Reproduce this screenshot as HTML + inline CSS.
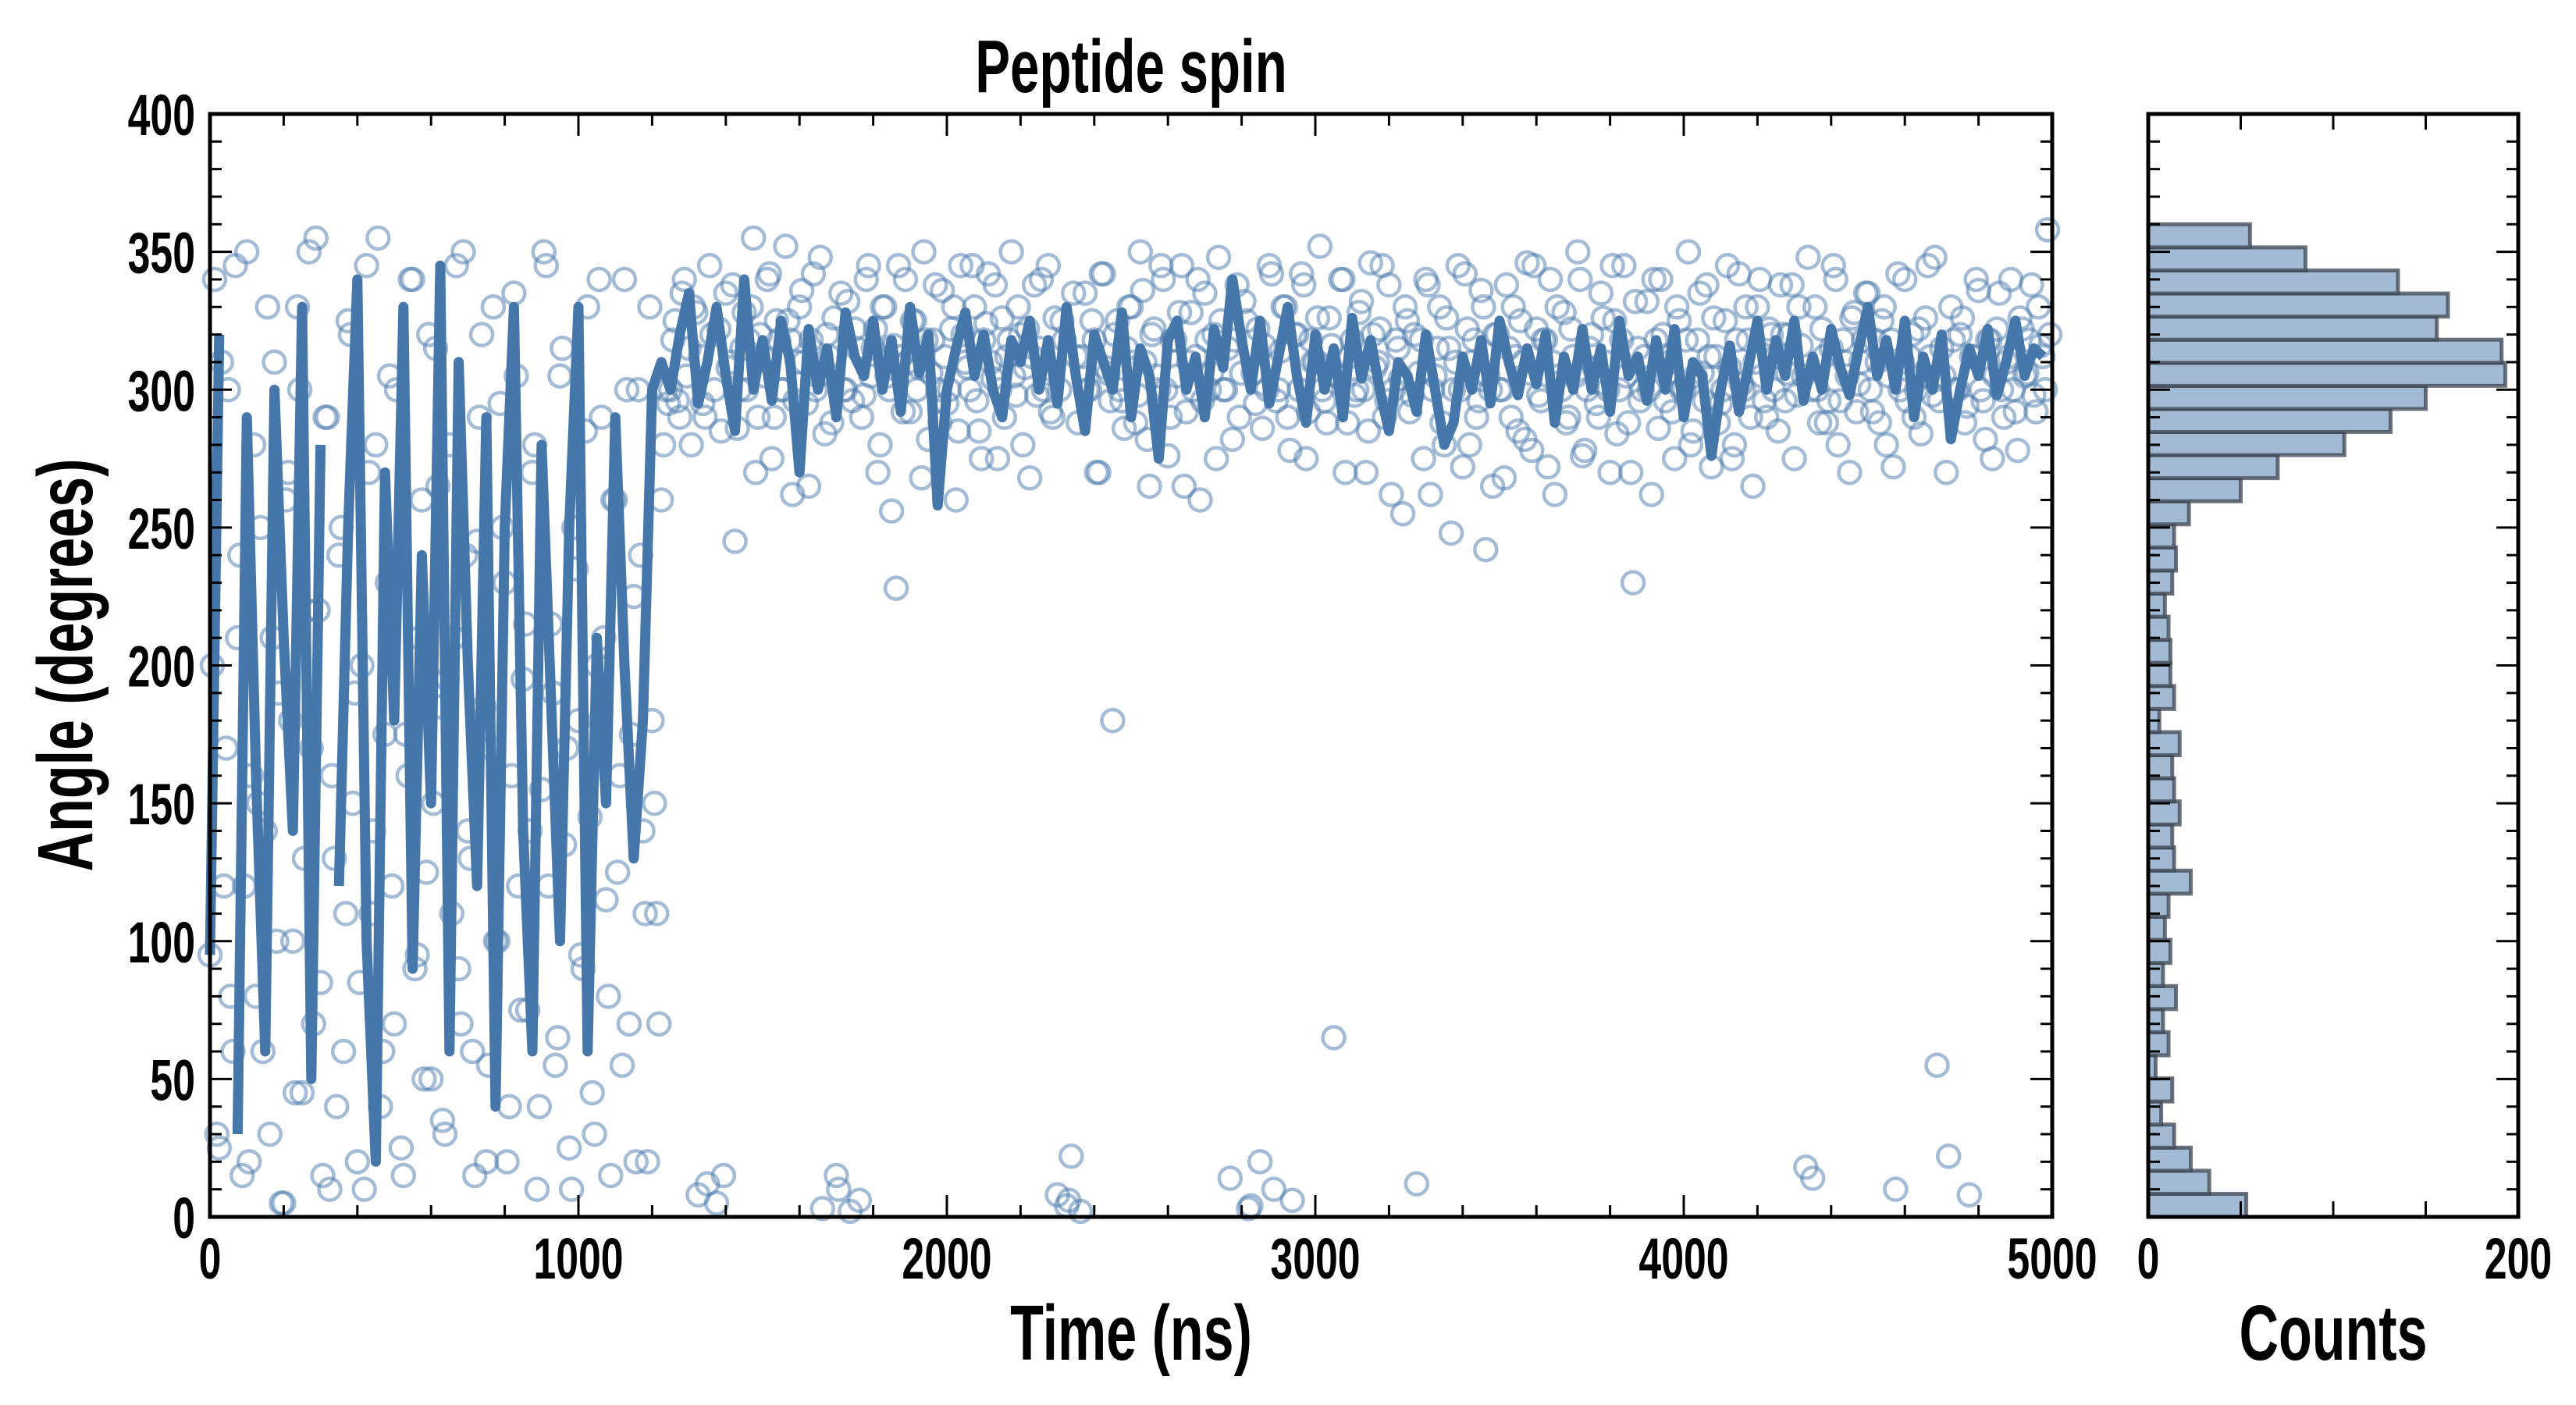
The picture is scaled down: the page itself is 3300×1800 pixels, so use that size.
<!DOCTYPE html>
<html><head><meta charset="utf-8"><style>
html,body{margin:0;padding:0;background:#fff;}
svg{display:block;}
text{font-family:"Liberation Sans Narrow","Liberation Sans",sans-serif;font-weight:bold;fill:#000;}
</style></head><body>
<svg id="chart" width="3300" height="1800" viewBox="0 0 3300 1800" xmlns="http://www.w3.org/2000/svg">
<g id="layer-hist"></g>
<g id="layer-scatter"></g>
<g id="layer-line"></g>
<g id="layer-axes"></g>
<text transform="translate(1449,118) scale(0.7,1)" text-anchor="middle" font-size="96">Peptide spin</text>
<text transform="translate(1449,1742) scale(0.7,1)" text-anchor="middle" font-size="100">Time (ns)</text>
<text transform="translate(2989,1742) scale(0.7,1)" text-anchor="middle" font-size="100">Counts</text>
<text transform="translate(118,852) rotate(-90) scale(0.7,1)" text-anchor="middle" font-size="100">Angle (degrees)</text>
</svg>
<script>
const scatterStep = 12.5;
const scatterAngles = [95,340,25,120,300,60,210,15,350,160,80,250,140,30,310,190,5,270,100,330,45,220,170,355,85,290,10,130,240,60,325,150,20,200,345,110,280,40,175,305,70,235,15,160,340,95,260,125,50,315,185,30,280,210,90,350,140,60,245,320,20,170,100,295,230,40,335,120,195,75,270,10,155,345,215,55,305,135,25,250,180,90,330,45,200,290,115,15,260,160,340,70,225,300,140,20,180,110,260,300,
300,325,290,340,315,330,8,295,12,320,5,285,335,310,245,300,328,318,355,290,
312,340,275,325,300,352,318,296,330,310,265,342,305,3,320,288,15,335,300,2,
322,6,298,345,315,270,330,305,256,228,312,340,292,325,308,350,282,318,300,336,
295,322,260,345,310,300,330,285,318,342,304,275,326,312,350,298,320,308,268,338,
315,300,345,290,8,325,4,22,312,2,335,300,318,270,342,306,180,325,296,315,
330,288,350,310,265,322,300,340,276,318,305,345,292,328,312,260,335,300,320,348,
300,315,282,338,306,325,4,295,20,316,345,10,300,330,290,6,320,342,275,318,
310,352,296,326,65,305,340,288,318,300,332,270,346,308,322,290,338,300,315,255,
325,298,12,318,340,262,305,330,280,315,300,345,272,322,310,290,336,242,300,320,
300,268,315,330,285,310,346,278,322,296,318,340,262,305,328,290,312,350,276,300,
320,295,335,310,270,325,300,345,288,230,315,300,332,262,318,340,296,310,275,325,
300,350,285,318,306,338,272,312,295,325,308,280,342,300,318,265,330,305,290,320,
312,338,296,320,275,330,305,348,14,300,322,288,315,340,296,310,270,328,302,318,
335,292,310,325,280,318,10,300,340,312,290,322,305,345,298,55,315,270,330,300,
320,288,8,312,336,296,318,275,322,300,310,340,292,326,305,318,298,330,312,358];
const scatterAngles2 = [200,30,310,170,80,345,240,120,20,280,150,60,330,210,100,5,260,180,45,300,130,350,70,220,15,290,160,40,250,110,320,190,85,10,270,140,355,60,230,120,300,25,175,340,90,210,50,320,150,265,35,195,110,345,70,240,130,15,290,185,55,330,100,250,20,160,305,75,215,140,280,40,350,120,190,65,315,170,10,235,95,285,145,30,340,210,80,260,125,55,300,175,20,240,110,330,150,70,280,295,
318,296,335,305,280,328,312,290,345,300,322,15,308,338,286,315,300,330,270,320,
305,342,290,318,300,325,262,310,336,295,318,300,348,284,312,326,10,300,332,296,
315,290,340,305,322,280,330,300,316,345,292,310,325,300,268,318,306,338,288,312,
300,330,285,320,308,345,296,275,324,310,338,300,290,318,305,330,280,322,312,298,
340,306,292,326,300,318,6,335,288,312,300,325,270,342,308,296,320,300,286,330,
310,298,336,282,320,305,345,300,290,318,328,265,310,300,340,296,318,306,275,325,
300,14,318,290,332,3,306,322,286,300,342,296,314,330,278,320,300,338,292,310,
326,300,288,316,305,340,270,312,298,328,300,285,320,310,345,296,262,318,304,330,
292,320,306,275,338,300,315,288,326,248,310,300,342,280,318,296,330,305,265,320,
300,338,290,312,325,282,306,345,298,318,272,310,330,300,288,322,305,340,278,315,
308,290,326,300,345,284,318,305,270,332,296,312,300,340,286,320,306,292,330,300,
318,280,305,335,296,312,326,288,300,345,275,318,302,330,290,310,340,296,322,300,
285,320,306,338,298,316,18,300,330,288,312,296,345,280,318,305,326,292,310,335,
300,318,288,330,305,272,342,310,296,320,300,284,326,312,348,296,305,22,318,300,
326,294,312,340,300,282,318,305,335,290,312,300,278,322,306,338,292,316,300,320];
const lineStep = 25;
const lineAngles = [95,320,null,30,290,160,60,300,210,140,330,50,280,null,120,250,340,100,20,270,180,330,90,240,150,345,60,310,200,120,290,40,250,330,140,60,280,190,100,250,330,60,210,150,290,200,130,180,300,310,
300,320,335,295,310,330,305,285,340,300,318,296,325,310,270,322,300,315,290,328,
312,305,325,300,318,292,330,306,320,258,300,315,328,305,320,300,290,318,310,325,
300,318,295,330,305,285,320,310,300,328,290,315,305,275,318,325,300,312,290,322,
308,340,318,300,325,295,312,330,305,288,320,300,315,290,326,304,318,300,285,310,
305,292,320,300,280,288,312,300,318,295,325,310,298,315,302,320,288,312,300,322,
300,315,292,325,305,312,296,318,300,322,290,310,305,276,300,316,292,308,325,300,
318,305,325,296,312,300,322,308,298,315,330,305,318,300,325,290,312,300,320,282,
300,315,305,322,298,310,325,305,315,312];
const histCounts = [53,33,23,14,7,13,4,11,8,15,8,12,9,11,23,14,13,17,14,13,17,6,14,12,12,11,9,13,15,14,22,50,70,106,131,150,193,191,156,162,135,85,55];
const xTicks = [0,1000,2000,3000,4000,5000];
const yTicks = [0,50,100,150,200,250,300,350,400];
const histTicks = [0,200];

const NS = "http://www.w3.org/2000/svg";
const M = {l:269, r:2629, t:146, b:1559};
const H = {l:2752, r:3226};
const xS = v => M.l + v/5000*(M.r-M.l);
const yS = v => M.b - v/400*(M.b-M.t);
const hS = v => H.l + v/200*(H.r-H.l);
function mk(tag, attrs, parent){const e=document.createElementNS(NS,tag);for(const k in attrs)e.setAttribute(k,attrs[k]);parent.appendChild(e);return e;}

const hist = document.getElementById('layer-hist');
const bw = 360/histCounts.length;
histCounts.forEach((c,i)=>{
  const y1 = yS(i*bw), y0 = yS((i+1)*bw);
  const r = mk('rect',{x:H.l,y:y0,width:hS(c)-H.l,height:y1-y0,fill:'#a2bad3',stroke:'#3c4450','stroke-opacity':'0.75','stroke-width':'5'},hist);
  
  
});

const sc = document.getElementById('layer-scatter');
function drawPts(arr, offset){
  arr.forEach((a,i)=>{
    const c = mk('circle',{cx:xS(i*scatterStep+offset),cy:yS(a),r:14,fill:'none',stroke:'#4a7aab','stroke-opacity':'0.5','stroke-width':'4.5'},sc);
    
    
  });
}
drawPts(scatterAngles, 0);
drawPts(scatterAngles2, scatterStep/2);

const ln = document.getElementById('layer-line');
let d='', pen=false;
lineAngles.forEach((a,i)=>{
  if(a===null){pen=false;return;}
  d += (pen?'L':'M') + xS(i*lineStep).toFixed(1) + ',' + yS(a).toFixed(1);
  pen=true;
});
const p = mk('path',{d:d,fill:'none',stroke:'#4677ab','stroke-width':'13','stroke-linejoin':'round'},ln);



const ax = document.getElementById('layer-axes');
function frame(l,r,name){
  const f = mk('rect',{x:l,y:M.t,width:r-l,height:M.b-M.t,fill:'none',stroke:'#000','stroke-width':'5'},ax);
  
  
  for(let v=0; v<=400; v+=10){
    const len = v%50===0 ? 28 : 15, y=yS(v);
    mk('line',{x1:l,x2:l+len,y1:y,y2:y,stroke:'#000','stroke-width':'3'},ax);
    mk('line',{x1:r,x2:r-len,y1:y,y2:y,stroke:'#000','stroke-width':'3'},ax);
  }
}
frame(M.l,M.r,'main-plot-frame');
frame(H.l,H.r,'hist-plot-frame');
for(let v=0; v<=5000; v+=200){
  const len = v%1000===0 ? 28 : 15, x=xS(v);
  mk('line',{x1:x,x2:x,y1:M.b,y2:M.b-len,stroke:'#000','stroke-width':'3'},ax);
  mk('line',{x1:x,x2:x,y1:M.t,y2:M.t+len,stroke:'#000','stroke-width':'3'},ax);
}
for(let v=0; v<=200; v+=50){
  const x=hS(v);
  mk('line',{x1:x,x2:x,y1:M.b,y2:M.b-20,stroke:'#000','stroke-width':'3'},ax);
  mk('line',{x1:x,x2:x,y1:M.t,y2:M.t+20,stroke:'#000','stroke-width':'3'},ax);
}
function label(txt,x,y,anchor,name){
  const t = mk('text',{transform:`translate(${x},${y}) scale(0.7,1)`,'text-anchor':anchor,'font-size':'74'},ax);
  t.textContent = txt;
  
  
}
xTicks.forEach(v=>label(String(v),xS(v),1638,'middle','x-tick-label'));
yTicks.forEach(v=>label(String(v),250,yS(v)+27,'end','y-tick-label'));
histTicks.forEach(v=>label(String(v),hS(v),1638,'middle','hist-x-tick-label'));
</script>
</body></html>
